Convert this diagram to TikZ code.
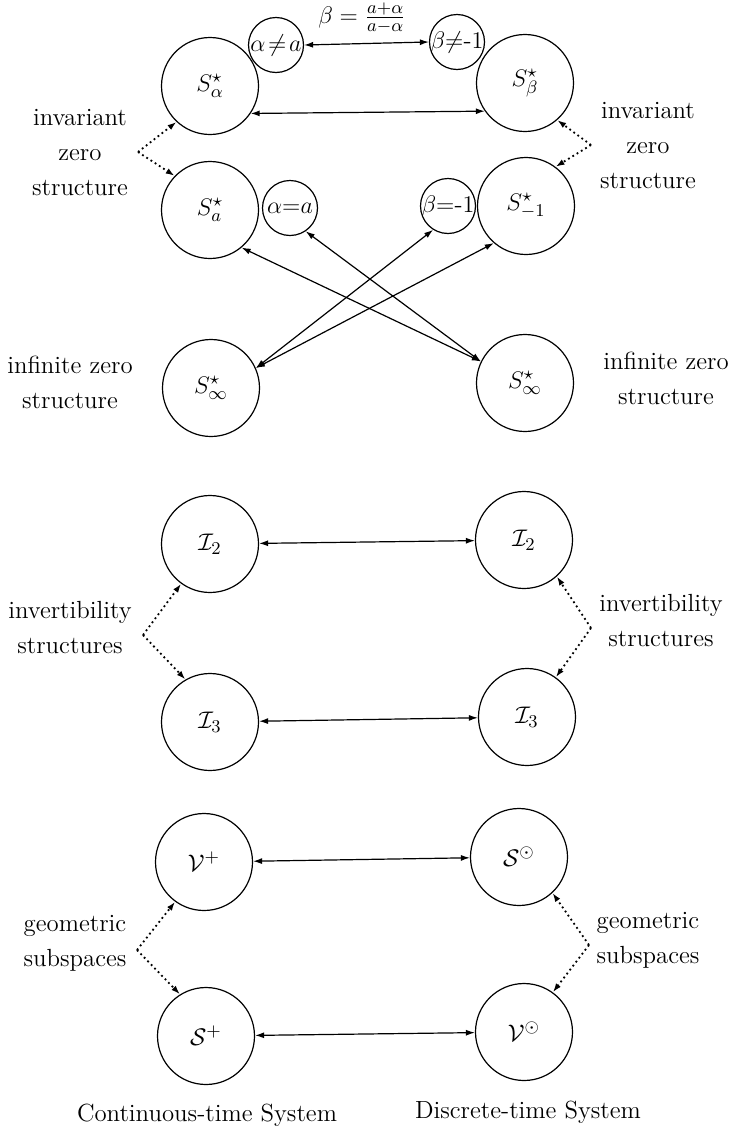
\documentclass[tikz,border=0pt]{standalone}
\usetikzlibrary{arrows.meta}
\begin{document}
\begin{tikzpicture}[x=0.5pt,y=-0.5pt,
  every node/.style={font=\fontsize{12.4}{17.5}\selectfont},
  bigc/.style={draw, circle, line width=0.6pt, minimum size=48.5pt, inner sep=0pt},
  smallc/.style={draw, circle, line width=0.6pt, minimum size=27.5pt, inner sep=0pt},
  smallt/.style={inner sep=0pt},
  biarr/.style={{Latex[length=4.5pt,width=3pt]}-{Latex[length=4.5pt,width=3pt]}, line width=0.6pt},
  dotarr/.style={-{Latex[length=4.5pt,width=3pt]}, line width=0.9pt, dash pattern=on 0.9pt off 1.6pt},
  lab/.style={align=center, inner sep=0pt}]
\useasboundingbox (0,0) rectangle (731,1130);

% zero structure
\node[bigc] (Sal) at (210,86) {$S^{\star}_{\alpha}$};
\node[smallc] (ane) at (276,45) {};
\node[smallt] (aneT) at (ane.center) {$\alpha\mkern2mu{\neq}\mkern2mu a$};
\node[smallc] (bne) at (457,42) {};
\node[smallt] (bneT) at (bne.center) {$\beta{\neq}\mbox{-}1$};
\node[bigc] (Sbe) at (525,83) {$S^{\star}_{\beta}$};
\node[bigc] (Saa) at (210,210) {$S^{\star}_{a}$};
\node[smallc] (aeq) at (290,208) {};
\node[smallt] (aeqT) at (aeq.center) {$\alpha{=}a$};
\node[smallc] (beq) at (448,206) {};
\node[smallt] (beqT) at (beq.center) {$\beta{=}\mbox{-}1$};
\node[bigc] (Sm1) at (526,206) {$S^{\star}_{-1}$};
\node[bigc] (Sinfl) at (211,388) {$S^{\star}_{\infty}$};
\node[bigc] (Sinfr) at (525,383) {$S^{\star}_{\infty}$};

\node (blab) at (362,18) {$\beta = \frac{a+\alpha}{a-\alpha}$};

\draw[biarr] (ane.east) -- (bne.west);
\draw[biarr] (Sal.-34) -- (Sbe.-145);
\draw[biarr] (Sinfl.24) -- (beq.-122);
\draw[biarr] (Sinfl.24) -- (Sm1.-131);
\draw[biarr] (Sinfr.154) -- (aeq.-56);
\draw[biarr] (Sinfr.154) -- (Saa.-50);

\coordinate (bzl) at (138,152);
\coordinate (bzr) at (591,145);
\draw[dotarr] (bzl) -- (Sal.-133);
\draw[dotarr] (bzl) -- (Saa.136);
\draw[dotarr] (bzr) -- (Sbe.-49);
\draw[dotarr] (bzr) -- (Sm1.53);

\node[lab] (zl) at (80,153) {invariant\\zero\\structure};
\node[lab] (zr) at (648,146) {invariant\\zero\\structure};
\node[lab] (il) at (70,382) {infinite zero\\structure};
\node[lab] (ir) at (666,378) {infinite zero\\structure};

% invertibility
\node[bigc] (I2l) at (210,544) {$\mathcal{I}_2$};
\node[bigc] (I2r) at (524,540) {$\mathcal{I}_2$};
\node[bigc] (I3l) at (210,722) {$\mathcal{I}_3$};
\node[bigc] (I3r) at (527,717) {$\mathcal{I}_3$};
\draw[biarr] (I2l) -- (I2r);
\draw[biarr] (I3l) -- (I3r);
\coordinate (bil) at (143,635);
\coordinate (bir) at (591,628);
\draw[dotarr] (bil) -- (I2l.-126);
\draw[dotarr] (bil) -- (I3l.120);
\draw[dotarr] (bir) -- (I2r.-48);
\draw[dotarr] (bir) -- (I3r.54);
\node[lab] (invl) at (70,628) {invertibility\\structures};
\node[lab] (invr) at (661,621) {invertibility\\structures};

% geometric subspaces
\node[bigc] (Vp) at (204,862) {$\mathcal{V}^{+}$};
\node[bigc] (So) at (519,857) {$\mathcal{S}^{\odot}$};
\node[bigc] (Sp) at (206,1036) {$\mathcal{S}^{+}$};
\node[bigc] (Vo) at (524,1032) {$\mathcal{V}^{\odot}$};
\draw[biarr] (Vp) -- (So);
\draw[biarr] (Sp) -- (Vo);
\coordinate (bgl) at (137,950);
\coordinate (bgr) at (589,945);
\draw[dotarr] (bgl) -- (Vp.-126);
\draw[dotarr] (bgl) -- (Sp.122);
\draw[dotarr] (bgr) -- (So.-47);
\draw[dotarr] (bgr) -- (Vo.54);
\node[lab] (gl) at (75,943) {geometric\\subspaces};
\node[lab] (gr) at (648,940) {geometric\\subspaces};

\node (ct) at (207,1115) {Continuous-time System};
\node (dt) at (528,1112) {Discrete-time System};
\end{tikzpicture}
\end{document}
